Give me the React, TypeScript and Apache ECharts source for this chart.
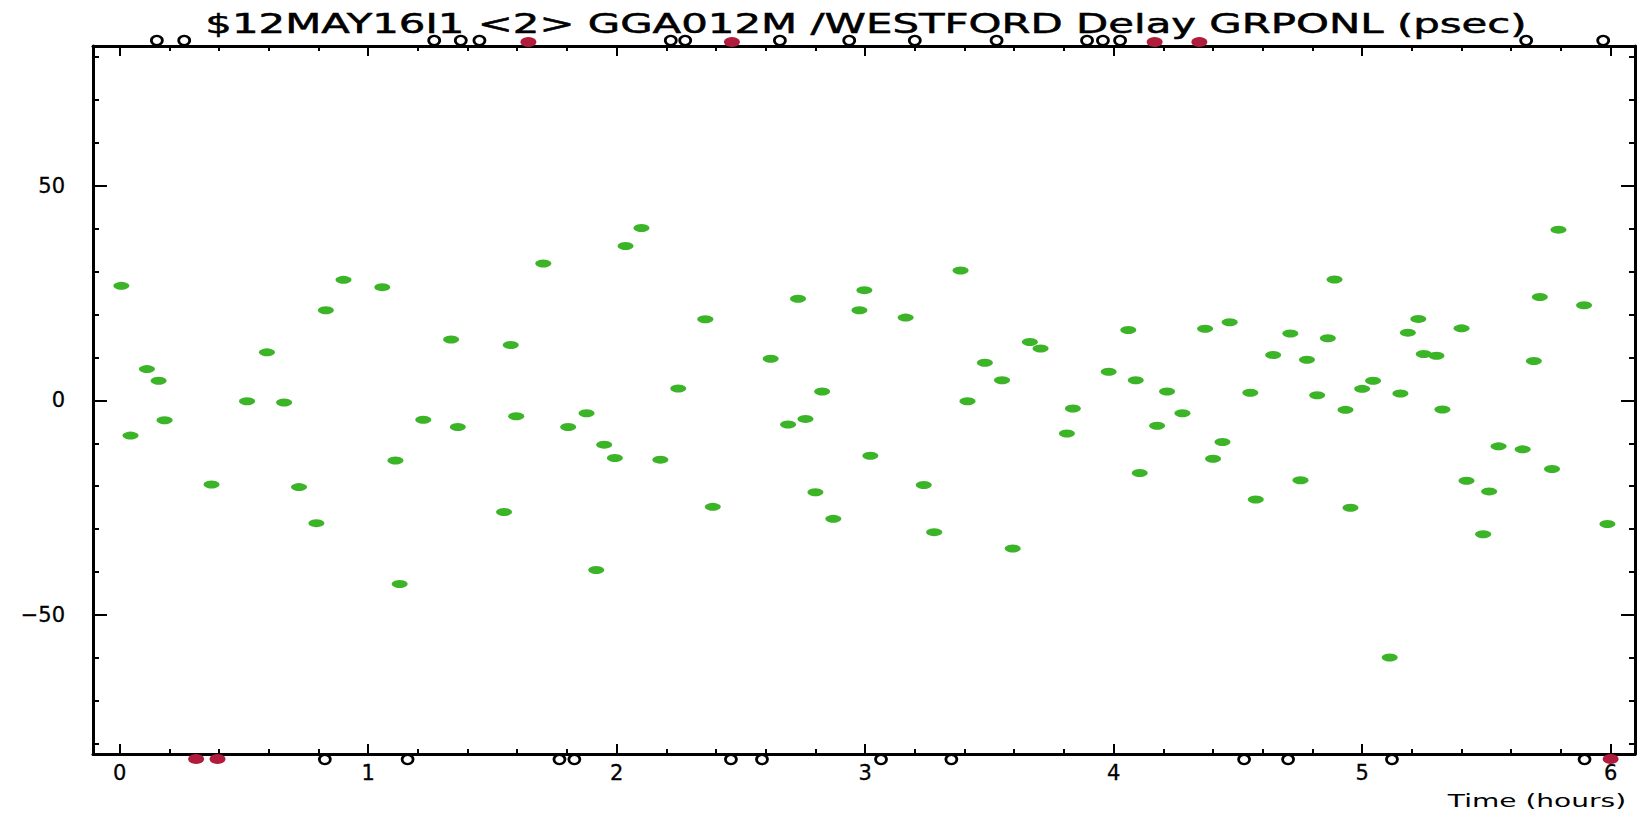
import React, { useEffect, useRef } from 'react';
import * as echarts from 'echarts';

const TITLE = '$12MAY16I1 <2> GGA012M /WESTFORD Delay GRPONL (psec)';
const X_NAME = 'Time (hours)';

const X_MIN = -0.107;
const X_MAX = 6.098;
const Y_MIN = -82.4;
const Y_MAX = 82.6;

const xMajorTicks = [0, 1, 2, 3, 4, 5, 6];
const xMinorTicks = [
  0.2, 0.4, 0.6, 0.8, 1.2, 1.4, 1.6, 1.8, 2.2, 2.4, 2.6, 2.8,
  3.2, 3.4, 3.6, 3.8, 4.2, 4.4, 4.6, 4.8, 5.2, 5.4, 5.6, 5.8,
];
const yMajorTicks = [-50, 0, 50];
const yMinorTicks = [-80, -70, -60, -40, -30, -20, -10, 10, 20, 30, 40, 60, 70, 80];

const hours = [
  0.007, 0.044, 0.11, 0.157, 0.181, 0.37, 0.513, 0.593, 0.662, 0.722,
  0.792, 0.83, 0.901, 1.057, 1.11, 1.127, 1.222, 1.334, 1.361, 1.547,
  1.574, 1.596, 1.705, 1.805, 1.879, 1.918, 1.95, 1.993, 2.036, 2.1,
  2.176, 2.248, 2.357, 2.387, 2.62, 2.69, 2.73, 2.76, 2.8, 2.827,
  2.872, 2.977, 2.997, 3.021, 3.163, 3.236, 3.278, 3.384, 3.412, 3.482,
  3.551, 3.594, 3.663, 3.706, 3.812, 3.836, 3.98, 4.059, 4.089, 4.105,
  4.175, 4.215, 4.277, 4.368, 4.4, 4.438, 4.467, 4.55, 4.572, 4.642,
  4.711, 4.752, 4.778, 4.819, 4.862, 4.889, 4.933, 4.953, 5.0, 5.044,
  5.111, 5.154, 5.184, 5.226, 5.248, 5.299, 5.323, 5.4, 5.42, 5.487,
  5.511, 5.549, 5.646, 5.691, 5.715, 5.764, 5.79, 5.893, 5.987,
];
const delays = [
  26.7, -8.2, 7.3, 4.6, -4.6, -19.6, -0.2, 11.2, -0.5, -20.2,
  -28.6, 21.0, 28.1, 26.4, -14.0, -42.8, -4.5, 14.2, -6.2, -26.0,
  12.9, -3.7, 31.9, -6.2, -3.0, -39.5, -10.3, -13.4, 36.0, 40.2,
  -13.8, 2.8, 18.9, -24.8, 9.7, -5.6, 23.7, -4.3, -21.4, 2.1,
  -27.6, 21.0, 25.7, -12.9, 19.3, -19.7, -30.7, 30.3, -0.2, 8.8,
  4.7, -34.5, 13.6, 12.1, -7.7, -1.9, 6.7, 16.4, 4.7, -16.9,
  -5.9, 2.1, -3.0, 16.7, -13.6, -9.7, 18.2, 1.8, -23.1, 10.6,
  15.6, -18.6, 9.5, 1.2, 14.5, 28.2, -2.2, -25.0, 2.7, 4.6,
  -59.9, 1.6, 15.8, 19.0, 10.8, 10.4, -2.1, 16.8, -18.7, -31.2,
  -21.2, -10.7, -11.4, 9.2, 24.1, -16.0, 39.8, 22.2, -28.8,
];

const topOpenHours = [
  0.15, 0.26, 1.266, 1.373, 1.448, 2.218, 2.276, 2.657, 2.936, 3.2,
  3.529, 3.893, 3.957, 4.026, 5.66, 5.97,
];
const topFlagHours = [1.645, 2.464, 4.165, 4.345];
const bottomOpenHours = [
  0.826, 1.159, 1.77, 1.83, 2.46, 2.585, 3.064, 3.347, 4.525, 4.702, 5.12, 5.895,
];
const bottomFlagHours = [0.308, 0.394, 6.0];

const FONT = '"DejaVu Sans", sans-serif';
const GREEN = '#3cb428';
const RED = '#b01c3c';

function makeAxis(kind: 'x' | 'y', position: string, ticks: number[], len: number, withLine: boolean, withLabels: boolean) {
  return {
    type: 'value',
    position,
    min: kind === 'x' ? X_MIN : Y_MIN,
    max: kind === 'x' ? X_MAX : Y_MAX,
    axisLine: { show: withLine, onZero: false, lineStyle: { color: '#000', width: 3 } },
    axisTick: {
      show: true,
      inside: true,
      length: len,
      customValues: ticks,
      lineStyle: { color: '#000', width: 2 },
    },
    axisLabel: withLabels
      ? {
          show: true,
          customValues: ticks,
          color: '#000',
          fontFamily: FONT,
          fontSize: 21,
          textBorderColor: '#000',
          textBorderWidth: 0.3,
          margin: kind === 'x' ? 8 : 28,
          formatter: (v: number) => (v < 0 ? '\u2212' + Math.abs(v) : String(v)),
        }
      : { show: false },
    splitLine: { show: false },
    minorTick: { show: false },
    minorSplitLine: { show: false },
  };
}

export default function App() {
  const ref = useRef<HTMLDivElement>(null);
  useEffect(() => {
    if (!ref.current) return;
    const chart = echarts.init(ref.current, null, { renderer: 'svg' });
    const mainData = hours.map((h, i) => [h, delays[i]]);
    chart.setOption({
      animation: false,
      backgroundColor: '#fff',
      grid: { left: 93, right: 16, top: 46, bottom: 61, outerBoundsMode: 'none' },
      xAxis: [
        makeAxis('x', 'bottom', xMajorTicks, 10, true, true),
        makeAxis('x', 'bottom', xMinorTicks, 5, false, false),
        makeAxis('x', 'top', xMajorTicks, 10, true, false),
        makeAxis('x', 'top', xMinorTicks, 5, false, false),
      ],
      yAxis: [
        makeAxis('y', 'left', yMajorTicks, 14, true, true),
        makeAxis('y', 'left', yMinorTicks, 6, false, false),
        makeAxis('y', 'right', yMajorTicks, 14, true, false),
        makeAxis('y', 'right', yMinorTicks, 6, false, false),
      ],
      graphic: [
        {
          type: 'text',
          x: 866,
          y: 24,
          scaleX: 1.61,
          style: {
            text: TITLE,
            font: '26px ' + FONT,
            fill: '#000',
            stroke: '#000',
            lineWidth: 0.5,
            textAlign: 'center',
            textVerticalAlign: 'middle',
          },
        },
        {
          type: 'text',
          x: 1537,
          y: 801,
          scaleX: 1.65,
          style: {
            text: X_NAME,
            font: '17px ' + FONT,
            fill: '#000',
            textAlign: 'center',
            textVerticalAlign: 'middle',
          },
        },
      ],
      series: [
        {
          type: 'scatter',
          xAxisIndex: 0,
          yAxisIndex: 0,
          data: mainData,
          symbol: 'circle',
          symbolSize: [16, 8],
          itemStyle: { color: GREEN, opacity: 1 },
        },
        {
          type: 'scatter',
          xAxisIndex: 0,
          yAxisIndex: 0,
          clip: false,
          data: topOpenHours.map((h) => [h, Y_MAX]),
          symbol: 'circle',
          symbolSize: [11, 9],
          symbolOffset: [0, -5.5],
          itemStyle: { color: 'rgba(0,0,0,0)', borderColor: '#000', borderWidth: 2.5, opacity: 1 },
        },
        {
          type: 'scatter',
          xAxisIndex: 0,
          yAxisIndex: 0,
          clip: false,
          data: bottomOpenHours.map((h) => [h, Y_MIN]),
          symbol: 'circle',
          symbolSize: [11, 9],
          symbolOffset: [0, 5.5],
          itemStyle: { color: 'rgba(0,0,0,0)', borderColor: '#000', borderWidth: 2.5, opacity: 1 },
        },
        {
          type: 'scatter',
          xAxisIndex: 0,
          yAxisIndex: 0,
          clip: false,
          data: topFlagHours.map((h) => [h, Y_MAX]),
          symbol: 'circle',
          symbolSize: [16, 10],
          symbolOffset: [0, -4],
          itemStyle: { color: RED, opacity: 1 },
        },
        {
          type: 'scatter',
          xAxisIndex: 0,
          yAxisIndex: 0,
          clip: false,
          data: bottomFlagHours.map((h) => [h, Y_MIN]),
          symbol: 'circle',
          symbolSize: [16, 10],
          symbolOffset: [0, 5],
          itemStyle: { color: RED, opacity: 1 },
        },
      ],
    });
    return () => chart.dispose();
  }, []);
  return (
    <div
      ref={ref}
      style={{ position: 'fixed', left: 0, top: 0, width: 1651, height: 815, background: '#fff' }}
    />
  );
}
